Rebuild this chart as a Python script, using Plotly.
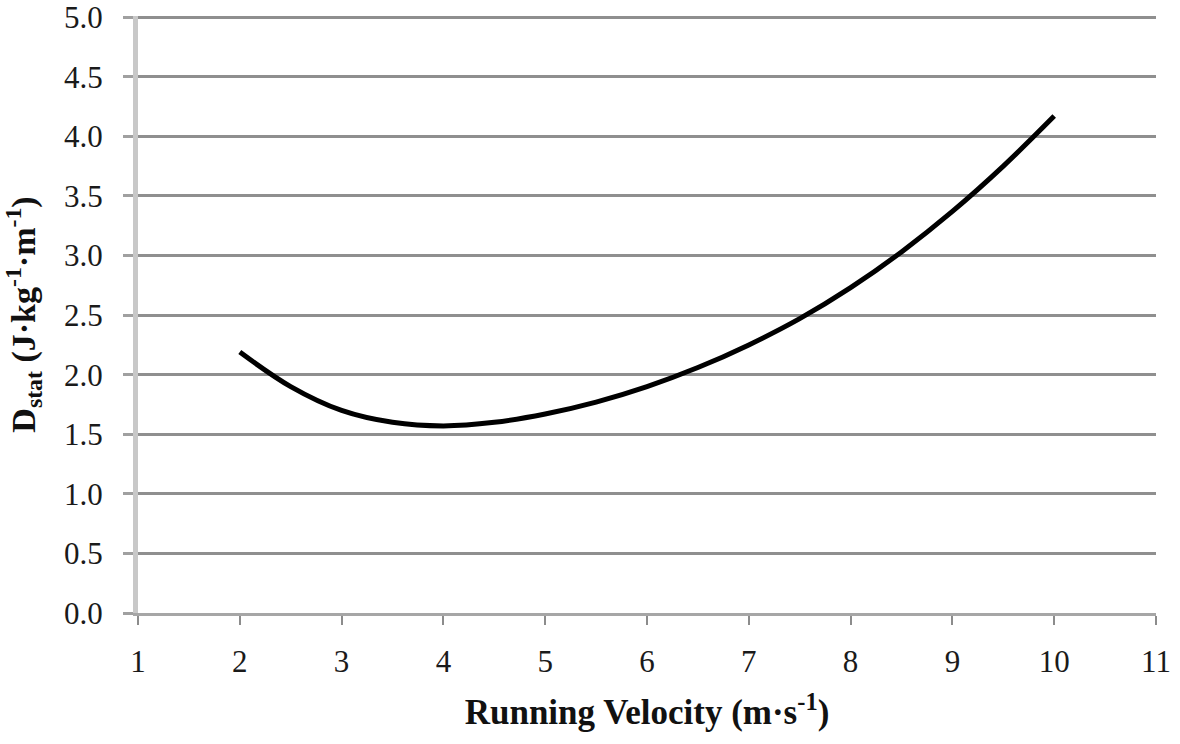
import plotly.graph_objects as go

# Running velocity (m/s) and the fitted energy cost curve
velocity = [2, 2.5, 3, 3.5, 4, 4.5, 5, 5.5, 6, 6.5, 7, 7.5, 8, 8.5, 9, 9.5, 10]
d_stat = [2.19, 1.90, 1.70, 1.60, 1.57, 1.60, 1.67, 1.77, 1.90, 2.06, 2.25,
          2.47, 2.73, 3.03, 3.37, 3.75, 4.17]

x_ticks = list(range(1, 12))
y_ticks = [0.0, 0.5, 1.0, 1.5, 2.0, 2.5, 3.0, 3.5, 4.0, 4.5, 5.0]

serif = "Liberation Serif, Times New Roman, serif"

fig = go.Figure()
fig.add_trace(go.Scatter(
    x=velocity, y=d_stat, mode="lines",
    line=dict(color="black", width=5, shape="spline", smoothing=1.0),
    showlegend=False, hoverinfo="skip",
))

fig.update_layout(
    width=1180, height=744,
    margin=dict(l=138, r=24, t=16, b=131, autoexpand=False),
    plot_bgcolor="white", paper_bgcolor="white",
    font=dict(family=serif, color="#222222"),
)

fig.update_xaxes(
    range=[1, 11], tickvals=x_ticks, ticktext=[str(v) for v in x_ticks],
    showgrid=False, zeroline=False, automargin=False,
    showline=True, linecolor="#a6a6a6", linewidth=3,
    ticks="outside", ticklen=9, tickwidth=2, tickcolor="#8c8c8c",
    ticklabelstandoff=10,
    tickfont=dict(family=serif, size=31, color="#1a1a1a"),
    title=dict(text="<b>Running Velocity (m·s<sup>-1</sup>)</b>",
               font=dict(family=serif, size=35, color="#111111"), standoff=22),
)

fig.update_yaxes(
    range=[0, 5.01], tickvals=y_ticks, ticktext=[f"{v:.1f}" for v in y_ticks],
    showgrid=True, gridcolor="#8f8f8f", gridwidth=3, zeroline=False,
    automargin=False,
    showline=True, linecolor="#c8c8c8", linewidth=5,
    ticks="outside", ticklen=10, tickwidth=3, tickcolor="#a0a0a0",
    ticklabelstandoff=14,
    tickfont=dict(family=serif, size=31, color="#1a1a1a"),
    title=dict(text="<b>D<sub>stat</sub> (J·kg<sup>-1</sup>·m<sup>-1</sup>)</b>",
               font=dict(family=serif, size=34, color="#111111"), standoff=20),
)

fig.write_html("out.html")
